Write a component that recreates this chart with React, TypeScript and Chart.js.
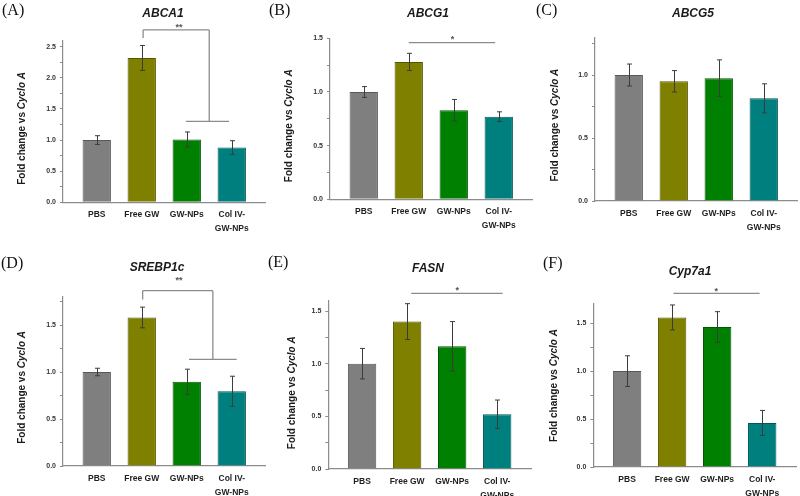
import React, { useEffect, useRef } from 'react';
import { Chart, registerables } from 'chart.js';

Chart.register(...registerables);

// ---------- data ----------
const categories: (string | string[])[] = ['PBS', 'Free GW', 'GW-NPs', ['Col IV-', 'GW-NPs']];
const barColors = ['#7f7f7f', '#7f7f00', '#008000', '#007f7f'];
const barBorders = ['#585858', '#555500', '#005800', '#005858'];

const abca1Mean = [1.0, 2.32, 1.01, 0.88];
const abca1Err = [0.07, 0.2, 0.12, 0.11];
const abcg1Mean = [1.0, 1.28, 0.83, 0.77];
const abcg1Err = [0.05, 0.08, 0.1, 0.045];
const abcg5Mean = [1.0, 0.95, 0.975, 0.815];
const abcg5Err = [0.087, 0.085, 0.145, 0.115];
const srebp1cMean = [1.0, 1.58, 0.895, 0.795];
const srebp1cErr = [0.04, 0.11, 0.135, 0.16];
const fasnMean = [1.0, 1.4, 1.165, 0.52];
const fasnErr = [0.145, 0.17, 0.235, 0.135];
const cyp7a1Mean = [1.0, 1.56, 1.46, 0.46];
const cyp7a1Err = [0.16, 0.13, 0.16, 0.13];

const yMaxValues = [2.6, 1.5, 1.3, 1.8, 1.6, 1.7];
const yMajorStep = 0.5;
const yMinorStep = 0.25;

// significance annotations in data units: [x1, y1, x2, y2]
const abca1SigLines = [[2.03, 2.64, 2.03, 2.77], [2.03, 2.77, 3.5, 2.77], [3.5, 2.77, 3.5, 1.3], [2.98, 1.3, 3.94, 1.3]];
const abca1SigMark = { text: '**', x: 2.83, y: 2.86 };
const abcg1SigLines = [[2.0, 1.46, 3.92, 1.46]];
const abcg1SigMark = { text: '*', x: 2.97, y: 1.52 };
const srebp1cSigLines = [[2.02, 1.77, 2.02, 1.865], [2.02, 1.865, 3.58, 1.865], [3.58, 1.865, 3.58, 1.135], [3.05, 1.135, 4.11, 1.135]];
const srebp1cSigMark = { text: '**', x: 2.83, y: 2.0 };
const fasnSigLines = [[2.09, 1.668, 4.12, 1.668]];
const fasnSigMark = { text: '*', x: 3.11, y: 1.72 };
const cyp7a1SigLines = [[2.03, 1.81, 3.94, 1.81]];
const cyp7a1SigMark = { text: '*', x: 2.98, y: 1.86 };

// ---------- layout ----------
type Panel = {
  name: string; tag: string; mean: number[]; err: number[]; yMax: number;
  sigLines: number[][]; sigMark: { text: string; x: number; y: number } | null;
  box: number[]; area: number[]; title: number[]; tagPos: number[]; yTitleX: number; yTitleShift: number;
};

const panels: Panel[] = [
  { name: 'ABCA1', tag: '(A)', mean: abca1Mean, err: abca1Err, yMax: yMaxValues[0], sigLines: abca1SigLines, sigMark: abca1SigMark,
    box: [0, 0, 268, 248], area: [63, 40.5, 265.5, 202.3], title: [163, 14], tagPos: [2, 11], yTitleX: 22, yTitleShift: 7 },
  { name: 'ABCG1', tag: '(B)', mean: abcg1Mean, err: abcg1Err, yMax: yMaxValues[1], sigLines: abcg1SigLines, sigMark: abcg1SigMark,
    box: [265, 0, 268, 248], area: [330, 38.3, 532.5, 199.3], title: [428, 14], tagPos: [269, 11], yTitleX: 289, yTitleShift: 7 },
  { name: 'ABCG5', tag: '(C)', mean: abcg5Mean, err: abcg5Err, yMax: yMaxValues[2], sigLines: [], sigMark: null,
    box: [530, 0, 270, 248], area: [595, 37.2, 797.5, 201], title: [693, 14], tagPos: [536, 11], yTitleX: 555, yTitleShift: 6 },
  { name: 'SREBP1c', tag: '(D)', mean: srebp1cMean, err: srebp1cErr, yMax: yMaxValues[3], sigLines: srebp1cSigLines, sigMark: srebp1cSigMark,
    box: [0, 248, 268, 248], area: [63, 296.8, 265.5, 466], title: [157, 268], tagPos: [1, 264], yTitleX: 22.5, yTitleShift: 6 },
  { name: 'FASN', tag: '(E)', mean: fasnMean, err: fasnErr, yMax: yMaxValues[4], sigLines: fasnSigLines, sigMark: fasnSigMark,
    box: [265, 248, 268, 248], area: [328.3, 300.5, 531, 469], title: [428, 269], tagPos: [268, 263], yTitleX: 292, yTitleShift: 8 },
  { name: 'Cyp7a1', tag: '(F)', mean: cyp7a1Mean, err: cyp7a1Err, yMax: yMaxValues[5], sigLines: cyp7a1SigLines, sigMark: cyp7a1SigMark,
    box: [530, 248, 270, 248], area: [593.3, 304, 796, 467], title: [690, 272], tagPos: [543, 264], yTitleX: 554.5, yTitleShift: 0 },
];

const SANS = '"Liberation Sans", Arial, Helvetica, sans-serif';
const SERIF = '"Liberation Serif", "Times New Roman", serif';
const Y_AXIS_W = 30;
const X_AXIS_H = 40;

function buildChart(canvas: HTMLCanvasElement, p: Panel) {
  const [ox, oy, W, H] = p.box;
  const [aL, aT, aR, aB] = p.area;
  const padding = {
    left: aL - ox - Y_AXIS_W,
    top: aT - oy,
    right: ox + W - aR,
    bottom: oy + H - aB - X_AXIS_H,
  };

  const extras = {
    id: 'extras',
    afterDatasetsDraw(chart: any) {
      const ctx = chart.ctx;
      const ys = chart.scales.y;
      const meta = chart.getDatasetMeta(0);
      ctx.save();
      ctx.strokeStyle = '#3c3c3c';
      ctx.lineWidth = 1;
      meta.data.forEach((el: any, i: number) => {
        const m = p.mean[i];
        const e = p.err[i];
        const x = Math.round(el.x) + 0.5;
        const t = ys.getPixelForValue(m + e);
        const b = ys.getPixelForValue(m - e);
        ctx.beginPath();
        ctx.moveTo(x, t); ctx.lineTo(x, b);
        ctx.moveTo(x - 2.5, t); ctx.lineTo(x + 2.5, t);
        ctx.moveTo(x - 2.5, b); ctx.lineTo(x + 2.5, b);
        ctx.stroke();
      });
      ctx.restore();
    },
    afterDraw(chart: any) {
      const ctx = chart.ctx;
      const xs = chart.scales.x;
      const ys = chart.scales.y;
      ctx.save();
      // significance brackets
      ctx.strokeStyle = '#8c8c8c';
      ctx.lineWidth = 1.3;
      p.sigLines.forEach((s) => {
        ctx.beginPath();
        ctx.moveTo(xs.getPixelForValue(s[0]), ys.getPixelForValue(s[1]));
        ctx.lineTo(xs.getPixelForValue(s[2]), ys.getPixelForValue(s[3]));
        ctx.stroke();
      });
      if (p.sigMark) {
        ctx.fillStyle = '#555';
        ctx.font = `bold 9px ${SANS}`;
        ctx.textAlign = 'center';
        ctx.textBaseline = 'middle';
        // asterisk glyph sits high in the em box; nudge it down
        ctx.fillText(p.sigMark.text, xs.getPixelForValue(p.sigMark.x), ys.getPixelForValue(p.sigMark.y) + 3);
      }
      // gene title
      ctx.fillStyle = '#1a1a1a';
      ctx.font = `italic bold 12px ${SANS}`;
      ctx.textAlign = 'center';
      ctx.textBaseline = 'middle';
      ctx.fillText(p.name, p.title[0] - ox, p.title[1] - oy);
      // panel tag
      ctx.fillStyle = '#111';
      ctx.font = `16px ${SERIF}`;
      ctx.textAlign = 'left';
      ctx.textBaseline = 'middle';
      ctx.fillText(p.tag, p.tagPos[0] - ox, p.tagPos[1] - oy);
      // y axis title with italic part
      const part1 = 'Fold change vs ';
      const part2 = 'Cyclo A';
      const f1 = `bold 10px ${SANS}`;
      const f2 = `italic bold 10px ${SANS}`;
      ctx.font = f1;
      const w1 = ctx.measureText(part1).width;
      ctx.font = f2;
      const w2 = ctx.measureText(part2).width;
      const cy = (chart.chartArea.top + chart.chartArea.bottom) / 2 + p.yTitleShift;
      ctx.translate(p.yTitleX - ox, cy);
      ctx.rotate(-Math.PI / 2);
      ctx.fillStyle = '#1a1a1a';
      ctx.textBaseline = 'middle';
      ctx.textAlign = 'left';
      const start = -(w1 + w2) / 2;
      ctx.font = f1;
      ctx.fillText(part1, start, 0);
      ctx.font = f2;
      ctx.fillText(part2, start + w1, 0);
      ctx.restore();
    },
  };

  const yTickValues: number[] = [];
  for (let v = 0; v <= p.yMax + 1e-9; v += yMinorStep) yTickValues.push(Math.round(v * 100) / 100);

  return new Chart(canvas, {
    type: 'bar',
    data: {
      datasets: [
        {
          data: p.mean.map((m, i) => ({ x: i + 1, y: m })),
          backgroundColor: barColors,
          borderColor: barBorders,
          borderWidth: 1,
          barPercentage: 0.63,
          categoryPercentage: 1,
        },
      ],
    },
    options: {
      animation: false,
      responsive: false,
      devicePixelRatio: 1,
      layout: { padding },
      plugins: { legend: { display: false }, tooltip: { enabled: false }, title: { display: false } },
      scales: {
        x: {
          type: 'linear',
          min: 0.25,
          max: 4.75,
          offset: false,
          afterFit: (s: any) => { s.height = X_AXIS_H; },
          afterBuildTicks: (s: any) => { s.ticks = categories.map((_, i) => ({ value: i + 1 })); },
          grid: { display: false, offset: false },
          border: { display: true, color: '#8c8c8c', width: 1.2 },
          ticks: {
            autoSkip: false,
            maxRotation: 0,
            padding: -2,
            color: '#1e1e1e',
            font: { family: SANS, size: 8.5, weight: 'bold', lineHeight: 1.6 },
            callback: (v: any) => categories[Math.round(v) - 1] as any,
          },
        },
        y: {
          type: 'linear',
          min: 0,
          max: p.yMax,
          afterFit: (s: any) => { s.width = Y_AXIS_W; },
          afterBuildTicks: (s: any) => { s.ticks = yTickValues.map((v) => ({ value: v })); },
          grid: { display: true, drawOnChartArea: false, drawTicks: true, tickLength: 3, color: '#8c8c8c', lineWidth: 1 },
          border: { display: true, color: '#8c8c8c', width: 1.2 },
          ticks: {
            autoSkip: false,
            padding: 4,
            color: '#333',
            font: { family: SANS, size: 7, weight: 'bold' },
            callback: (v: any) => {
              const r = v / yMajorStep;
              return Math.abs(r - Math.round(r)) < 1e-6 ? Number(v).toFixed(1) : '';
            },
          },
        },
      },
    } as any,
    plugins: [extras],
  });
}

function PanelChart({ p }: { p: Panel }) {
  const ref = useRef<HTMLCanvasElement | null>(null);
  useEffect(() => {
    if (!ref.current) return;
    const chart = buildChart(ref.current, p);
    return () => chart.destroy();
  }, [p]);
  return (
    <canvas
      ref={ref}
      width={p.box[2]}
      height={p.box[3]}
      style={{ position: 'absolute', left: p.box[0], top: p.box[1], width: p.box[2], height: p.box[3] }}
    />
  );
}

export default function App() {
  return (
    <div style={{ position: 'absolute', left: 0, top: 0, width: 800, height: 496, background: '#fff', overflow: 'hidden' }}>
      {panels.map((p) => (
        <PanelChart key={p.name} p={p} />
      ))}
    </div>
  );
}
